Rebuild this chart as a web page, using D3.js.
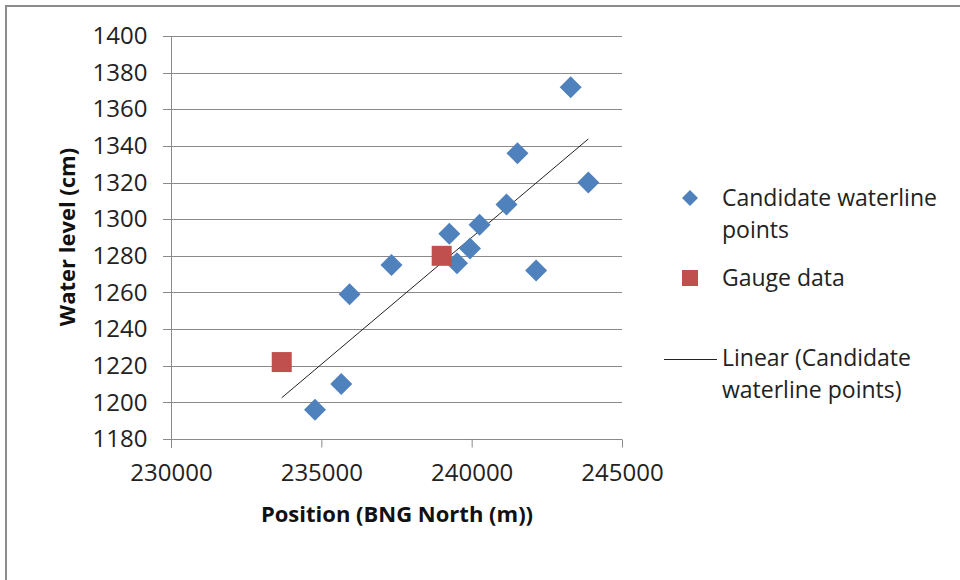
<!DOCTYPE html>
<html>
<head>
<meta charset="utf-8">
<script src="https://cdn.jsdelivr.net/npm/d3@7"></script>
<style>
  body { margin: 0; background: #fff; }
  svg { display: block; font-family: "Open Sans", sans-serif; }
</style>
</head>
<body>
<div id="chart"></div>
<script>
// values
var candX = [243294, 241523, 243879, 241159, 240263, 239257, 239944, 239512, 242144, 237333, 235939, 235663, 234789];
var candY = [1372, 1336, 1320, 1308, 1297, 1292, 1284, 1276, 1272, 1275, 1259, 1210, 1196];
var gaugeX = [239003, 233683];
var gaugeY = [1280, 1222];
var xTicks = [230000, 235000, 240000, 245000];
var yTicks = [1180, 1200, 1220, 1240, 1260, 1280, 1300, 1320, 1340, 1360, 1380, 1400];

var w = 960, h = 580;
var svg = d3.select("#chart").append("svg")
  .attr("width", w)
  .attr("height", h);

// outer chart border (runs off right/bottom)
svg.append("rect")
  .attr("x", 6).attr("y", 6)
  .attr("width", 1000).attr("height", 1000)
  .attr("fill", "none")
  .attr("stroke", "#8c8c8c")
  .attr("stroke-width", 2);

var x = d3.scaleLinear().domain([230000, 245000]).range([171, 622]);
var y = d3.scaleLinear().domain([1180, 1400]).range([439, 36]);

// gridlines
svg.append("g").selectAll("line").data(yTicks).enter().append("line")
  .attr("x1", 163).attr("x2", 622)
  .attr("y1", function(d) { return Math.round(y(d)) + 0.5; })
  .attr("y2", function(d) { return Math.round(y(d)) + 0.5; })
  .attr("stroke", "#8a8a8a")
  .attr("stroke-width", 1);

// y axis
var yAxis = svg.append("g")
  .attr("transform", "translate(171.5,0)")
  .call(d3.axisLeft(y).tickValues(yTicks).tickSize(0).tickPadding(24).tickFormat(d3.format("d")));
yAxis.select(".domain").attr("stroke", "#8a8a8a").attr("d", "M0,36V448");
yAxis.selectAll("text").attr("font-size", 24).attr("fill", "#222").attr("font-family", "Open Sans");

// x axis
var xAxis = svg.append("g")
  .attr("transform", "translate(0,439.5)")
  .call(d3.axisBottom(x).tickValues(xTicks).tickSize(8).tickPadding(16).tickFormat(d3.format("d")));
xAxis.select(".domain").remove();
xAxis.selectAll("line").attr("stroke", "#8a8a8a");
xAxis.selectAll("text").attr("font-size", 24).attr("fill", "#222").attr("font-family", "Open Sans");

// axis titles
svg.append("text")
  .attr("x", 397).attr("y", 522)
  .attr("text-anchor", "middle")
  .attr("font-size", 22).attr("font-weight", "bold").attr("fill", "#111")
  .text("Position (BNG North (m))");

svg.append("text")
  .attr("transform", "translate(75,237) rotate(-90)")
  .attr("text-anchor", "middle")
  .attr("font-size", 22).attr("font-weight", "bold").attr("fill", "#111")
  .text("Water level (cm)");

// linear trendline (least squares on candidate points)
var mx = d3.mean(candX), my = d3.mean(candY);
var sxy = d3.sum(candX, function(d, i) { return (d - mx) * (candY[i] - my); });
var sxx = d3.sum(candX, function(d) { return (d - mx) * (d - mx); });
var slope = sxy / sxx, icpt = my - slope * mx;
var allX = candX.concat(gaugeX);
var ext = d3.extent(allX);
svg.append("path")
  .attr("d", d3.line()
    .x(function(d) { return x(d); })
    .y(function(d) { return y(icpt + slope * d); })(ext))
  .attr("stroke", "#222")
  .attr("stroke-width", 1)
  .attr("fill", "none");

// candidate points (diamonds)
var diamond = function(r) { return "M0," + (-r) + "L" + r + ",0L0," + r + "L" + (-r) + ",0Z"; };
svg.append("g").selectAll("path").data(candX).enter().append("path")
  .attr("transform", function(d, i) { return "translate(" + x(d) + "," + y(candY[i]) + ")"; })
  .attr("d", diamond(11))
  .attr("fill", "#4f81bd");

// gauge points (squares)
svg.append("g").selectAll("rect").data(gaugeX).enter().append("rect")
  .attr("x", function(d) { return x(d) - 10; })
  .attr("y", function(d, i) { return y(gaugeY[i]) - 10; })
  .attr("width", 20).attr("height", 20)
  .attr("fill", "#c0504d");

// legend
var lg = svg.append("g").attr("font-size", 23).attr("fill", "#222");
lg.append("path").attr("transform", "translate(690,198)").attr("d", diamond(8)).attr("fill", "#4f81bd");
lg.append("text").attr("x", 722).attr("y", 206).text("Candidate waterline");
lg.append("text").attr("x", 722).attr("y", 238).text("points");
lg.append("rect").attr("x", 682).attr("y", 270).attr("width", 16).attr("height", 16).attr("fill", "#c0504d");
lg.append("text").attr("x", 722).attr("y", 286).text("Gauge data");
lg.append("line").attr("x1", 664).attr("x2", 717).attr("y1", 359.5).attr("y2", 359.5).attr("stroke", "#222");
lg.append("text").attr("x", 722).attr("y", 366).text("Linear (Candidate");
lg.append("text").attr("x", 722).attr("y", 398).text("waterline points)");
</script>
</body>
</html>
